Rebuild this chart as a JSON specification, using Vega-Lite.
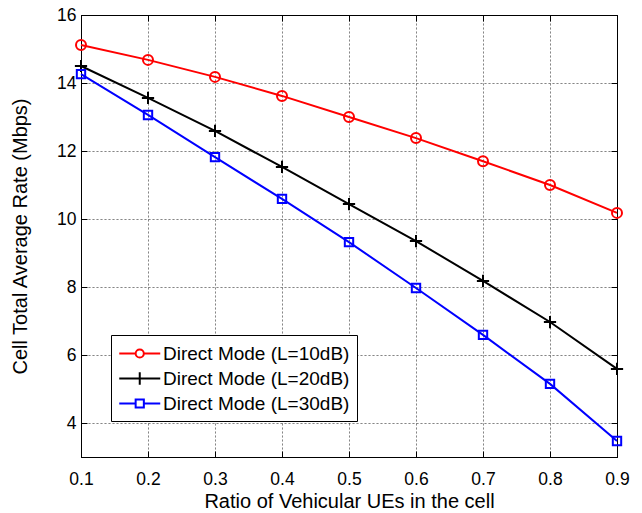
{
  "$schema": "https://vega.github.io/schema/vega-lite/v6.json",
  "width": 536,
  "height": 442,
  "autosize": {"type": "none"},
  "padding": {"left": 81, "top": 15, "right": 25, "bottom": 56},
  "background": "white",
  "config": {
    "font": "Liberation Sans",
    "view": {"stroke": "black", "strokeWidth": 1},
    "axis": {
      "domainColor": "black",
      "tickColor": "black",
      "tickSize": -6,
      "labelColor": "black",
      "labelFontSize": 17.5,
      "labelFont": "Liberation Sans",
      "labelFlush": false,
      "labelOverlap": false,
      "titleFont": "Liberation Sans",
      "titleFontSize": 20,
      "titleFontWeight": "normal",
      "titleColor": "black",
      "gridColor": "black",
      "gridDash": [1, 3],
      "gridOpacity": 0.55,
      "labelPadding": 8
    },
    "legend": {
      "orient": "none",
      "legendX": 30,
      "legendY": 320,
      "strokeColor": "black",
      "fillColor": "white",
      "padding": 7,
      "symbolSize": 420,
      "symbolType": "M-1,0H3",
      "symbolStrokeWidth": 2,
      "labelFontSize": 19,
      "labelFont": "Liberation Sans",
      "labelColor": "black",
      "labelLimit": 400,
      "rowPadding": 3,
      "labelOffset": 22
    }
  },
  "data": {
    "values": [
      {"x": 0.1, "y": 15.12, "s": "Direct Mode (L=10dB)"},
      {"x": 0.2, "y": 14.68, "s": "Direct Mode (L=10dB)"},
      {"x": 0.3, "y": 14.18, "s": "Direct Mode (L=10dB)"},
      {"x": 0.4, "y": 13.62, "s": "Direct Mode (L=10dB)"},
      {"x": 0.5, "y": 13.0, "s": "Direct Mode (L=10dB)"},
      {"x": 0.6, "y": 12.38, "s": "Direct Mode (L=10dB)"},
      {"x": 0.7, "y": 11.7, "s": "Direct Mode (L=10dB)"},
      {"x": 0.8, "y": 11.0, "s": "Direct Mode (L=10dB)"},
      {"x": 0.9, "y": 10.18, "s": "Direct Mode (L=10dB)"},
      {"x": 0.1, "y": 14.5, "s": "Direct Mode (L=20dB)"},
      {"x": 0.2, "y": 13.56, "s": "Direct Mode (L=20dB)"},
      {"x": 0.3, "y": 12.59, "s": "Direct Mode (L=20dB)"},
      {"x": 0.4, "y": 11.53, "s": "Direct Mode (L=20dB)"},
      {"x": 0.5, "y": 10.44, "s": "Direct Mode (L=20dB)"},
      {"x": 0.6, "y": 9.35, "s": "Direct Mode (L=20dB)"},
      {"x": 0.7, "y": 8.18, "s": "Direct Mode (L=20dB)"},
      {"x": 0.8, "y": 6.97, "s": "Direct Mode (L=20dB)"},
      {"x": 0.9, "y": 5.59, "s": "Direct Mode (L=20dB)"},
      {"x": 0.1, "y": 14.26, "s": "Direct Mode (L=30dB)"},
      {"x": 0.2, "y": 13.06, "s": "Direct Mode (L=30dB)"},
      {"x": 0.3, "y": 11.82, "s": "Direct Mode (L=30dB)"},
      {"x": 0.4, "y": 10.59, "s": "Direct Mode (L=30dB)"},
      {"x": 0.5, "y": 9.32, "s": "Direct Mode (L=30dB)"},
      {"x": 0.6, "y": 7.97, "s": "Direct Mode (L=30dB)"},
      {"x": 0.7, "y": 6.59, "s": "Direct Mode (L=30dB)"},
      {"x": 0.8, "y": 5.15, "s": "Direct Mode (L=30dB)"},
      {"x": 0.9, "y": 3.47, "s": "Direct Mode (L=30dB)"}
    ]
  },
  "resolve": {"axis": {"x": "independent", "y": "independent"}},
  "layer": [
    {
      "mark": {"type": "line", "strokeWidth": 2},
      "encoding": {
        "x": {
          "field": "x", "type": "quantitative",
          "scale": {"domain": [0.1, 0.9], "nice": false, "zero": false},
          "axis": {"values": [0.1, 0.2, 0.3, 0.4, 0.5, 0.6, 0.7, 0.8, 0.9], "format": ".1f", "title": "Ratio of Vehicular UEs in the cell", "labelPadding": 19, "titlePadding": 4}
        },
        "y": {
          "field": "y", "type": "quantitative",
          "scale": {"domain": [3, 16], "nice": false, "zero": false},
          "axis": {"values": [4, 6, 8, 10, 12, 14, 16], "title": "Cell Total Average Rate (Mbps)", "labelPadding": 11, "titlePadding": 26}
        },
        "color": {
          "field": "s", "type": "nominal",
          "scale": {"domain": ["Direct Mode (L=10dB)", "Direct Mode (L=20dB)", "Direct Mode (L=30dB)"], "range": ["#ff0000", "#000000", "#0000ff"]},
          "legend": {
            "title": null,
            "encode": {
              "symbols": {
                "update": {
                  "shape": {"signal": "datum.value === 'Direct Mode (L=10dB)' ? 'M-1,0H0.6A0.4,0.4,0,1,1,1.4,0H3M1.4,0A0.4,0.4,0,1,1,0.6,0' : datum.value === 'Direct Mode (L=20dB)' ? 'M-1,0H3M1,-0.6V0.6' : 'M-1,0H0.6M1.4,0H3M0.6,-0.4H1.4V0.4H0.6Z'"},
                  "fill": {"value": "transparent"},
                  "strokeWidth": {"value": 2}
                }
              }
            }
          }
        }
      }
    },
    {
      "transform": [{"filter": "datum.s === 'Direct Mode (L=10dB)'"}],
      "mark": {"type": "point", "shape": "circle", "filled": false, "strokeWidth": 2, "size": 100, "opacity": 1},
      "encoding": {
        "x": {"field": "x", "type": "quantitative", "axis": null},
        "y": {"field": "y", "type": "quantitative", "axis": null},
        "color": {"field": "s", "type": "nominal", "legend": null}
      }
    },
    {
      "transform": [{"filter": "datum.s === 'Direct Mode (L=20dB)'"}],
      "mark": {"type": "point", "shape": "M-1,0H1M0,-1V1", "filled": false, "strokeWidth": 2, "size": 150, "opacity": 1},
      "encoding": {
        "x": {"field": "x", "type": "quantitative", "axis": null},
        "y": {"field": "y", "type": "quantitative", "axis": null},
        "color": {"field": "s", "type": "nominal", "legend": null}
      }
    },
    {
      "transform": [{"filter": "datum.s === 'Direct Mode (L=30dB)'"}],
      "mark": {"type": "point", "shape": "square", "filled": false, "strokeWidth": 2, "size": 70, "opacity": 1},
      "encoding": {
        "x": {"field": "x", "type": "quantitative", "axis": null},
        "y": {"field": "y", "type": "quantitative", "axis": null},
        "color": {"field": "s", "type": "nominal", "legend": null}
      }
    },
    {
      "mark": {"type": "point", "opacity": 0},
      "encoding": {
        "x": {"field": "x", "type": "quantitative", "axis": {"orient": "top", "values": [0.1, 0.2, 0.3, 0.4, 0.5, 0.6, 0.7, 0.8, 0.9], "labels": false, "grid": true, "title": null}},
        "y": {"field": "y", "type": "quantitative", "axis": {"orient": "right", "values": [4, 6, 8, 10, 12, 14, 16], "labels": false, "grid": true, "title": null}}
      }
    }
  ]
}
